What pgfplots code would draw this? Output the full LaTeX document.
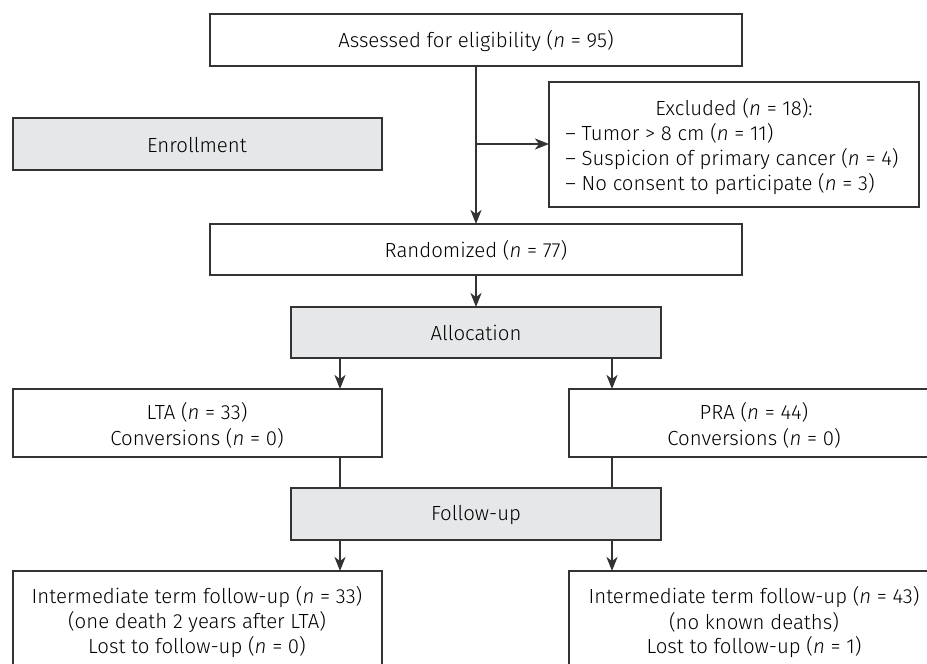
\documentclass[border=0pt]{standalone}
\usepackage{pgfplots}
\pgfplotsset{compat=1.18}
\usepackage{fontspec}
\setmainfont{Fira Sans Light}[ItalicFont={Fira Sans Light Italic}]
\usetikzlibrary{arrows.meta}
\definecolor{boxline}{HTML}{333333}
\definecolor{boxfill}{HTML}{E6E7E8}
\newcommand{\nn}{\textit{n}}
\begin{document}
\begin{tikzpicture}[
  txt/.style={inner sep=0pt, font=\fontsize{10.2}{13}\selectfont, text=black},
  box/.style={draw=boxline, line width=1pt},
  arr/.style={draw=boxline, line width=1pt, -{Stealth[length=7pt,width=5.5pt,inset=2pt]}},
  ln/.style={draw=boxline, line width=1pt}
]
\begin{axis}[
  width=463.5pt, height=332pt, scale only axis,
  xmin=0, xmax=927, ymin=0, ymax=664, y dir=reverse,
  hide axis, clip=false
]
\coordinate (SW) at (axis cs:0,664);
\coordinate (NE) at (axis cs:927,0);
% top box
\draw[box, fill=white] (axis cs:210,14) rectangle (axis cs:742,66);
\node[txt] at (axis cs:476,41) {Assessed for eligibility (\nn{} = 95)};
% enrollment
\draw[box, fill=boxfill] (axis cs:12.7,118) rectangle (axis cs:382,170);
\node[txt] at (axis cs:197,145) {Enrollment};
% excluded
\draw[box, fill=white] (axis cs:549,82) rectangle (axis cs:919,207);
\node[txt] at (axis cs:734,108) {Excluded (\nn{} = 18):};
\node[txt, anchor=west] at (axis cs:565,133) {– Tumor > 8 cm (\nn{} = 11)};
\node[txt, anchor=west] at (axis cs:565,159) {– Suspicion of primary cancer (\nn{} = 4)};
\node[txt, anchor=west] at (axis cs:565,184) {– No consent to participate (\nn{} = 3)};
% arrows top
\draw[arr] (axis cs:476,66) -- (axis cs:476,224);
\draw[arr] (axis cs:476,144) -- (axis cs:549,144);
% randomized
\draw[box, fill=white] (axis cs:210,224) rectangle (axis cs:742,275);
\node[txt] at (axis cs:476,250) {Randomized (\nn{} = 77)};
\draw[arr] (axis cs:476,275) -- (axis cs:476,307);
% allocation
\draw[box, fill=boxfill] (axis cs:291,307) rectangle (axis cs:661,358);
\node[txt] at (axis cs:476,333) {Allocation};
\draw[arr] (axis cs:340,358) -- (axis cs:340,389);
\draw[arr] (axis cs:612,358) -- (axis cs:612,389);
% LTA / PRA
\draw[box] (axis cs:12.7,389) rectangle (axis cs:382,457);
\node[txt] at (axis cs:197,412) {LTA (\nn{} = 33)};
\node[txt] at (axis cs:197,438) {Conversions (\nn{} = 0)};
\draw[box] (axis cs:927,389) -- (axis cs:569,389) -- (axis cs:569,457) -- (axis cs:927,457);
\node[txt] at (axis cs:754,412) {PRA (\nn{} = 44)};
\node[txt] at (axis cs:754,438) {Conversions (\nn{} = 0)};
\draw[ln] (axis cs:340,457) -- (axis cs:340,488);
\draw[ln] (axis cs:612,457) -- (axis cs:612,488);
% follow-up
\draw[box, fill=boxfill] (axis cs:291,488) rectangle (axis cs:661,540);
\node[txt] at (axis cs:476,515) {Follow-up};
\draw[arr] (axis cs:340,540) -- (axis cs:340,571);
\draw[arr] (axis cs:612,540) -- (axis cs:612,571);
% bottom boxes
\draw[box] (axis cs:12.7,664) -- (axis cs:12.7,571) -- (axis cs:382,571) -- (axis cs:382,664);
\node[txt] at (axis cs:197,597) {Intermediate term follow-up (\nn{} = 33)};
\node[txt] at (axis cs:197,622) {(one death 2 years after LTA)};
\node[txt] at (axis cs:197,647) {Lost to follow-up (\nn{} = 0)};
\draw[box] (axis cs:569,664) -- (axis cs:569,571) -- (axis cs:927,571);
\node[txt] at (axis cs:754,597) {Intermediate term follow-up (\nn{} = 43)};
\node[txt] at (axis cs:754,622) {(no known deaths)};
\node[txt] at (axis cs:754,647) {Lost to follow-up (\nn{} = 1)};
\end{axis}
\pgfresetboundingbox
\path[use as bounding box] (SW) rectangle (NE);
\end{tikzpicture}
\end{document}
